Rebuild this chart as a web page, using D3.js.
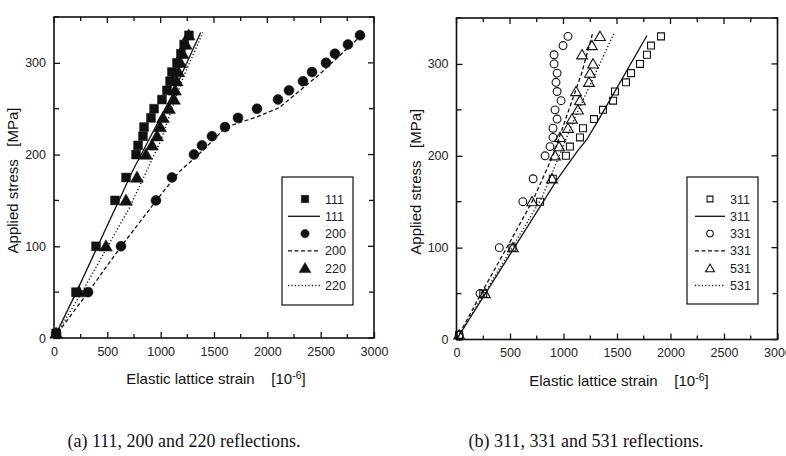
<!DOCTYPE html>
<html><head><meta charset="utf-8">
<script src="https://cdn.jsdelivr.net/npm/d3@7"></script>
<style>body{margin:0;background:#fff}svg{display:block}text{white-space:pre}</style>
</head><body>
<svg id="chart" width="786" height="456"></svg>
<script>
// ---- data ----
const strainTicks = [0, 500, 1000, 1500, 2000, 2500, 3000];
const stressTicks = [0, 100, 200, 300];

// panel (a)
const pts111 = [[20,5],[206,50],[394,100],[572,150],[675,175],[769,200],[788,210],[834,220],[844,230],[909,240],[938,250],[1012,260],[1059,270],[1088,280],[1106,290],[1153,300],[1190,310],[1220,320],[1265,330]];
const line111 = [[0,0],[210,50],[740,183],[1100,263],[1375,333]];
const pts200 = [[20,5],[319,50],[628,100],[956,150],[1106,175],[1312,200],[1387,210],[1481,220],[1603,230],[1725,240],[1903,250],[2100,260],[2203,270],[2334,280],[2419,290],[2550,300],[2634,310],[2756,320],[2869,330]];
const line200 = [[0,0],[320,50],[630,100],[960,150],[1172,181],[1400,205],[1612,230],[1903,241],[2110,251],[2484,287],[2900,332]];
const pts220 = [[20,5],[234,50],[487,100],[675,150],[778,175],[862,200],[919,210],[966,220],[994,230],[1022,240],[1078,250],[1125,260],[1134,270],[1150,280],[1165,290],[1185,300],[1205,310],[1235,320],[1262,330]];
const line220 = [[0,0],[262,50],[712,143],[1000,215],[1200,281],[1395,333]];

// panel (b)
const pts311 = [[25,5],[250,50],[523,100],[781,150],[900,175],[1023,200],[1060,210],[1154,220],[1182,230],[1285,240],[1369,250],[1463,260],[1481,270],[1584,280],[1631,290],[1715,300],[1780,310],[1818,320],[1911,330]];
const line311 = [[0,0],[940,174],[1130,205],[1220,218],[1342,242],[1780,331]];
const pts331 = [[25,5],[220,50],[400,100],[620,150],[716,175],[828,200],[874,210],[902,220],[902,230],[940,240],[921,250],[977,260],[940,270],[930,280],[940,290],[912,300],[912,310],[996,320],[1042,330]];
const line331 = [[0,0],[230,50],[470,100],[716,152],[900,200],[1050,250],[1170,290],[1271,333]];
const pts531 = [[25,5],[266,50],[528,100],[706,150],[893,175],[921,200],[958,210],[968,220],[1042,230],[1079,240],[1135,250],[1154,260],[1117,270],[1238,280],[1248,290],[1276,300],[1173,310],[1266,320],[1341,330]];
const line531 = [[0,0],[260,50],[520,100],[800,155],[960,200],[1100,240],[1300,290],[1470,333]];

const legendA = [
  {label:"111", shape:"square", fill:true},
  {label:"111", dash:null},
  {label:"200", shape:"circle", fill:true},
  {label:"200", dash:"4,2.5"},
  {label:"220", shape:"triangle", fill:true},
  {label:"220", dash:"1.2,2.2"}
];
const legendB = [
  {label:"311", shape:"square", fill:false},
  {label:"311", dash:null},
  {label:"331", shape:"circle", fill:false},
  {label:"331", dash:"4,2.5"},
  {label:"531", shape:"triangle", fill:false},
  {label:"531", dash:"1.2,2.2"}
];

const captionA = "(a) 111, 200 and 220 reflections.";
const captionB = "(b) 311, 331 and 531 reflections.";

// ---- drawing ----
const svg = d3.select("#chart");
const FONT = "'Liberation Sans', Arial, sans-serif";

function symbolPath(shape, size) {
  const t = shape === "square" ? d3.symbolSquare : shape === "circle" ? d3.symbolCircle : d3.symbolTriangle;
  return d3.symbol().type(t).size(size)();
}

function drawPanel(opt) {
  const g = svg.append("g");
  const x = d3.scaleLinear().domain([0, 3000]).range([opt.left, opt.right]);
  const y = d3.scaleLinear().domain([0, 350]).range([opt.bottom, opt.top]);

  g.append("rect").attr("x", opt.left).attr("y", opt.top)
    .attr("width", opt.right - opt.left).attr("height", opt.bottom - opt.top)
    .attr("fill", "none").attr("stroke", "#111").attr("stroke-width", 1.6);

  const xMinor = d3.range(0, 3001, 250);
  const yMinor = d3.range(0, 351, 50);
  const bottomAxis = d3.axisBottom(x).tickValues(strainTicks).tickSize(-6).tickPadding(9).tickFormat(d3.format("d"));
  const ba = g.append("g").attr("transform", `translate(0,${opt.bottom})`).call(bottomAxis);
  const tickG = g.append("g").attr("stroke", "#111").attr("stroke-width", 1.3);
  xMinor.forEach(v => {
    const len = v % 500 === 0 ? 6 : 4;
    tickG.append("line").attr("x1", x(v)).attr("x2", x(v)).attr("y1", opt.top).attr("y2", opt.top + len);
    if (v % 500 !== 0) tickG.append("line").attr("x1", x(v)).attr("x2", x(v)).attr("y1", opt.bottom).attr("y2", opt.bottom - len);
  });
  yMinor.forEach(v => {
    const len = v % 100 === 0 ? 6 : 5;
    tickG.append("line").attr("y1", y(v)).attr("y2", y(v)).attr("x1", opt.right).attr("x2", opt.right - len);
    if (v % 100 !== 0) tickG.append("line").attr("y1", y(v)).attr("y2", y(v)).attr("x1", opt.left).attr("x2", opt.left + len);
  });
  const leftAxis = d3.axisLeft(y).tickValues(stressTicks).tickSize(-6).tickPadding(8).tickFormat(d3.format("d"));
  const la = g.append("g").attr("transform", `translate(${opt.left},0)`).call(leftAxis);
  [ba, la].forEach(a => {
    a.select(".domain").remove();
    a.selectAll(".tick line").attr("stroke", "#111").attr("stroke-width", 1.3);
    a.selectAll(".tick text").attr("font-family", FONT).attr("font-size", 12.5).attr("fill", "#222");
  });

  const lineGen = d3.line().x(d => x(d[0])).y(d => y(d[1]));
  opt.lines.forEach(L => {
    g.append("path").datum(L.data).attr("d", lineGen).attr("fill", "none")
      .attr("stroke", "#111").attr("stroke-width", L.dash && L.dash.startsWith("1.2") ? 1.4 : 1.3)
      .attr("stroke-dasharray", L.dash);
  });

  opt.points.forEach(P => {
    const size = P.fill ? (P.shape === "triangle" ? 72 : 78) : (P.shape === "triangle" ? 50 : 48);
    g.append("g").selectAll("path").data(P.data).join("path")
      .attr("transform", d => `translate(${x(d[0])},${y(d[1]) + (P.shape === "triangle" ? 1 : 0)})`)
      .attr("d", symbolPath(P.shape, size))
      .attr("fill", P.fill ? "#111" : "#fff")
      .attr("fill-opacity", P.fill ? 1 : 0)
      .attr("stroke", "#111").attr("stroke-width", P.fill ? 0.5 : 1.1);
  });

  const lg = g.append("g");
  lg.append("rect").attr("x", opt.leg.x).attr("y", opt.leg.y).attr("width", opt.leg.w).attr("height", opt.leg.h)
    .attr("fill", "#fff").attr("stroke", "#111").attr("stroke-width", 1.2);
  opt.legend.forEach((e, i) => {
    const cy = opt.leg.y + 22 + i * 17.3;
    const symX = opt.leg.x + opt.leg.symDX;
    if (e.shape) {
      const size = e.fill ? (e.shape === "triangle" ? 60 : 55) : 34;
      lg.append("path").attr("transform", `translate(${symX},${cy + (e.shape === "triangle" ? 1 : 0)})`)
        .attr("d", symbolPath(e.shape, size))
        .attr("fill", e.fill ? "#111" : "none").attr("stroke", "#111").attr("stroke-width", e.fill ? 0.5 : 1.1);
    } else {
      lg.append("line").attr("x1", opt.leg.x + opt.leg.lineX1).attr("x2", opt.leg.x + opt.leg.lineX2)
        .attr("y1", cy).attr("y2", cy).attr("stroke", "#111").attr("stroke-width", 1.3)
        .attr("stroke-dasharray", e.dash);
    }
    lg.append("text").attr("x", opt.leg.x + opt.leg.textDX).attr("y", cy + 4.5)
      .attr("font-family", FONT).attr("font-size", 12.5).attr("fill", "#222").text(e.label);
  });

  const xt = g.append("text").attr("x", (opt.left + opt.right) / 2 + 2).attr("y", opt.bottom + 46)
    .attr("text-anchor", "middle").attr("font-family", FONT).attr("font-size", 15).attr("fill", "#111");
  xt.append("tspan").text("Elastic lattice strain    [10");
  xt.append("tspan").attr("dy", -5).attr("font-size", 10.5).text("-6");
  xt.append("tspan").attr("dy", 5).text("]");
  g.append("text").attr("transform", `translate(${opt.left - 36},${(opt.top + opt.bottom) / 2 + 3}) rotate(-90)`)
    .attr("text-anchor", "middle").attr("font-family", FONT).attr("font-size", 15).attr("fill", "#111")
    .text("Applied stress   [MPa]");

  svg.append("text").attr("x", opt.capX).attr("y", 447).attr("text-anchor", "middle")
    .attr("font-family", "'Liberation Serif', 'Times New Roman', serif").attr("font-size", 18).attr("fill", "#111")
    .text(opt.caption);
}

drawPanel({
  left: 54, right: 374, top: 17, bottom: 338,
  lines: [{data: line111, dash: null}, {data: line200, dash: "4,2.5"}, {data: line220, dash: "1.2,2.2"}],
  points: [{data: pts111, shape: "square", fill: true}, {data: pts200, shape: "circle", fill: true}, {data: pts220, shape: "triangle", fill: true}],
  legend: legendA,
  leg: {x: 282, y: 177, w: 71, h: 128, symDX: 23, lineX1: 6, lineX2: 38, textDX: 43},
  caption: captionA, capX: 184
});
drawPanel({
  left: 456.5, right: 777.5, top: 18, bottom: 339.5,
  lines: [{data: line311, dash: null}, {data: line331, dash: "4,2.5"}, {data: line531, dash: "1.2,2.2"}],
  points: [{data: pts311, shape: "square", fill: false}, {data: pts331, shape: "circle", fill: false}, {data: pts531, shape: "triangle", fill: false}],
  legend: legendB,
  leg: {x: 687, y: 177, w: 71, h: 127, symDX: 23, lineX1: 8, lineX2: 38, textDX: 43},
  caption: captionB, capX: 586
});
</script>
</body></html>
